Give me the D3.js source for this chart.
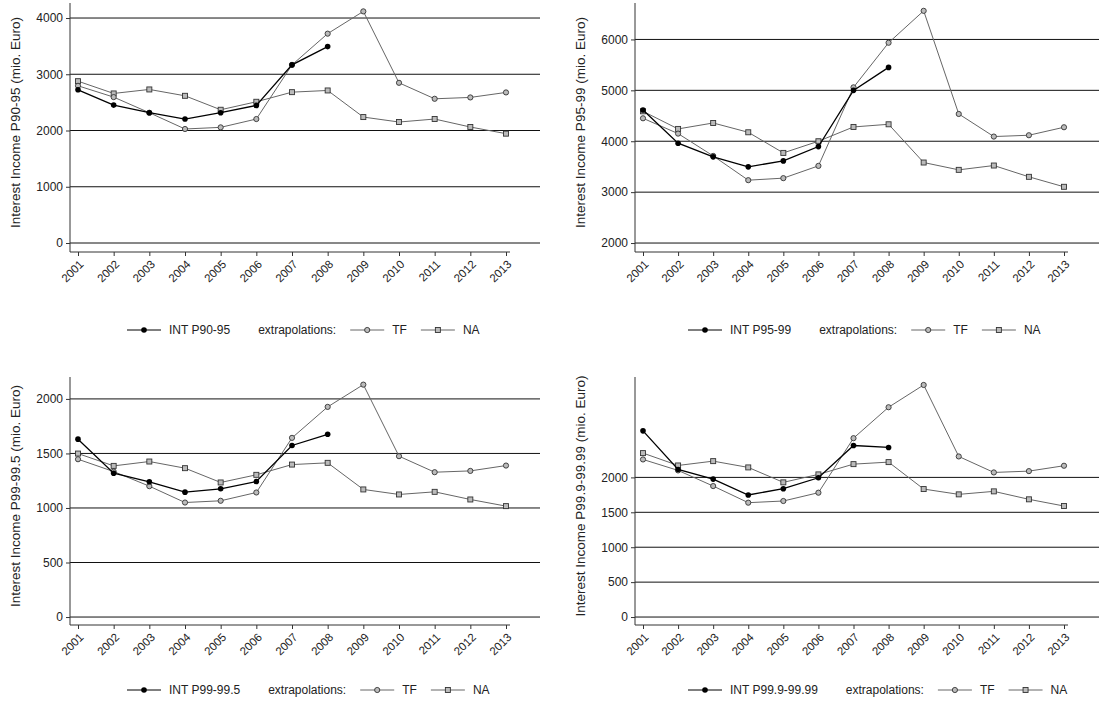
<!DOCTYPE html>
<html><head><meta charset="utf-8">
<script src="https://cdn.jsdelivr.net/npm/d3@7"></script>
<style>body{margin:0;background:#fff}text{font-family:"Liberation Sans",Arial,sans-serif;fill:#222}</style>
</head><body><svg id="c" width="1099" height="718"></svg>
<script>
const years = [2001,2002,2003,2004,2005,2006,2007,2008,2009,2010,2011,2012,2013];

const int1 = [2724,2452,2316,2204,2316,2446,3167,3492];
const tf1  = [2795,2594,2316,2027,2056,2204,3167,3722,4118,2848,2564,2588,2677];
const na1  = [2877,2659,2730,2617,2369,2511,2682,2712,2239,2151,2204,2062,1944];

const int2 = [4614,3961,3693,3497,3614,3895,5000,5451];
const tf2  = [4451,4150,3712,3235,3275,3516,5059,5935,6562,4536,4092,4118,4275];
const na2  = [4588,4242,4359,4176,3771,4000,4281,4333,3582,3438,3523,3301,3105];

const int3 = [1631,1319,1240,1145,1176,1243,1573,1676];
const tf3  = [1447,1334,1200,1050,1066,1142,1643,1927,2131,1475,1328,1340,1389];
const na3  = [1499,1386,1426,1365,1234,1304,1398,1414,1170,1124,1148,1078,1017];

const int4 = [2667,2114,1976,1748,1838,1995,2457,2429];
const tf4  = [2257,2100,1876,1638,1662,1781,2562,3005,3324,2300,2071,2090,2167];
const na4  = [2348,2171,2233,2143,1929,2043,2190,2219,1833,1757,1800,1686,1590];

const panels = [
  {label:"Interest Income P90-95 (mio. Euro)", leg:"INT P90-95", int:int1, tf:tf1, na:na1,
   dom:[-160,4267], ticks:[0,1000,2000,3000,4000], ax:70, x0:78, x1:506, top:3, bot:252, gridEnd:540, legY:330, legX:127},
  {label:"Interest Income P95-99 (mio. Euro)", leg:"INT P95-99", int:int2, tf:tf2, na:na2,
   dom:[1824,6716], ticks:[2000,3000,4000,5000,6000], ax:635, x0:643, x1:1064, top:3, bot:252, gridEnd:1099, legY:330, legX:688},
  {label:"Interest Income P99-99.5 (mio. Euro)", leg:"INT P99-99.5", int:int3, tf:tf3, na:na3,
   dom:[-73,2201], ticks:[0,500,1000,1500,2000], ax:70, x0:78, x1:506, top:377, bot:625, gridEnd:540, legY:690, legX:127},
  {label:"Interest Income P99.9-99.99 (mio. Euro)", leg:"INT P99.9-99.99", int:int4, tf:tf4, na:na4,
   dom:[-114,3438], ticks:[0,500,1000,1500,2000], ax:635, x0:643, x1:1064, top:377, bot:625, gridEnd:1099, legY:690, legX:688}
];

const svg = d3.select("#c");
const grey = "#666";

function marker(g, shape, x, y, color) {
  if (shape === "dot") g.append("circle").attr("cx", x).attr("cy", y).attr("r", 2.8).attr("fill", color);
  else if (shape === "circle") g.append("circle").attr("cx", x).attr("cy", y).attr("r", 2.6)
      .attr("fill", "#bbb").attr("stroke", "#333").attr("stroke-width", 0.9);
  else g.append("rect").attr("x", x - 2.5).attr("y", y - 2.5).attr("width", 5).attr("height", 5)
      .attr("fill", "#bbb").attr("stroke", "#333").attr("stroke-width", 0.9);
}

panels.forEach(p => {
  const g = svg.append("g");
  const x = d3.scalePoint().domain(years).range([p.x0, p.x1]);
  const y = d3.scaleLinear().domain(p.dom).range([p.bot, p.top]);

  g.selectAll("line.grid").data(p.ticks).enter().append("line")
    .attr("x1", p.ax).attr("x2", p.gridEnd).attr("y1", d => y(d)).attr("y2", d => y(d))
    .attr("stroke", "#111").attr("stroke-width", 1);

  const ya = g.append("g").attr("transform", `translate(${p.ax},0)`)
    .call(d3.axisLeft(y).tickValues(p.ticks).tickSize(4).tickPadding(3).tickFormat(d3.format("d")));
  ya.select(".domain").attr("d", `M0,${p.top}V${p.bot}`).attr("stroke", "#333");
  ya.selectAll("text").style("font-size", "12px").attr("fill", "#222");
  ya.selectAll(".tick line").attr("stroke", "#333");

  const xa = g.append("g").attr("transform", `translate(0,${p.bot})`)
    .call(d3.axisBottom(x).tickSize(4).tickPadding(2));
  xa.select(".domain").attr("d", `M${p.ax},0H${p.x1 + 4}`).attr("stroke", "#333");
  xa.selectAll(".tick line").attr("stroke", "#333");
  xa.selectAll("text").style("font-size", "11.5px").attr("fill", "#222")
    .attr("text-anchor", "end").attr("y", 0).attr("dy", "0.35em")
    .attr("transform", "translate(3,10) rotate(-45)");

  g.append("text").attr("transform", `translate(${p.ax - 50},${(p.top + p.bot) / 2 - 5}) rotate(-90)`)
    .attr("text-anchor", "middle").style("font-size", "13.5px").text(p.label);

  const line = d3.line().x((d, i) => x(years[i])).y(d => y(d));
  [["na", grey, "square"], ["tf", grey, "circle"], ["int", "#000", "dot"]].forEach(([k, c, s]) => {
    g.append("path").attr("d", line(p[k])).attr("fill", "none").attr("stroke", c).attr("stroke-width", k === "int" ? 1.3 : 1);
    p[k].forEach((v, i) => marker(g, s, x(years[i]), y(v), k === "int" ? "#000" : grey));
  });

  // legend
  const L = g.append("g");
  let lx = p.legX;
  const item = (shape, color, txt) => {
    L.append("line").attr("x1", lx).attr("x2", lx + 34).attr("y1", p.legY).attr("y2", p.legY).attr("stroke", color);
    marker(L, shape, lx + 17, p.legY, color);
    const t = L.append("text").attr("x", lx + 42).attr("y", p.legY + 4).style("font-size", "12px").text(txt);
    lx += 42 + t.node().getComputedTextLength();
  };
  item("dot", "#000", p.leg);
  lx += 28;
  const t = L.append("text").attr("x", lx).attr("y", p.legY + 4).style("font-size", "12px").text("extrapolations:");
  lx += t.node().getComputedTextLength() + 14;
  item("circle", grey, "TF");
  lx += 14;
  item("square", grey, "NA");
});
</script></body></html>
